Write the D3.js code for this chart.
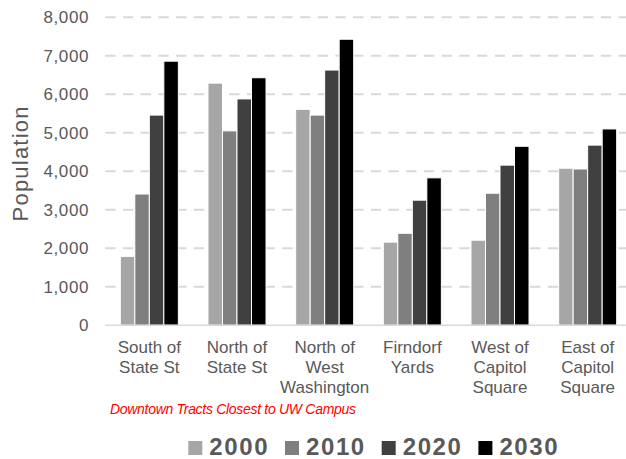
<!DOCTYPE html>
<html><head><meta charset="utf-8">
<script src="https://cdn.jsdelivr.net/npm/d3@7"></script>
<style>
html,body{margin:0;padding:0;background:#fff;}
svg{display:block;font-family:"Liberation Sans",Arial,sans-serif;}
</style></head>
<body>
<script>
const categories = [
  ["South of","State St"],
  ["North of","State St"],
  ["North of","West","Washington"],
  ["Firndorf","Yards"],
  ["West of","Capitol","Square"],
  ["East of","Capitol","Square"]
];
const series = ["2000","2010","2020","2030"];
const v2000 = [1790, 6290, 5610, 2160, 2210, 4080];
const v2010 = [3410, 5050, 5460, 2390, 3430, 4060];
const v2020 = [5460, 5880, 6630, 3250, 4160, 4680];
const v2030 = [6860, 6430, 7430, 3830, 4650, 5100];
const yTicks = [0,1000,2000,3000,4000,5000,6000,7000,8000];
const colors = ["#a6a6a6","#7f7f7f","#404040","#000000"];
const values = [v2000, v2010, v2020, v2030];

const W = 626, H = 459;
const svg = d3.select("body").append("svg").attr("width", W).attr("height", H);

const catKeys = categories.map((c,i)=>"c"+i);
const x0 = d3.scaleBand().domain(catKeys).range([105.5, 631.5]).paddingInner(0.338).paddingOuter(0.169);
const x1 = d3.scaleBand().domain(series).range([0, x0.bandwidth()]);
const y = d3.scaleLinear().domain([0, 8000]).range([325.3, 17.3]);

// gridlines
svg.append("g").selectAll("line").data(yTicks.filter(t=>t>0)).join("line")
  .attr("x1", 105.3).attr("x2", W)
  .attr("y1", d=>y(d)).attr("y2", d=>y(d))
  .attr("stroke", "#d9d9d9").attr("stroke-width", 2)
  .attr("stroke-dasharray", "10.3 7.4");

// y axis labels
const yAxis = d3.axisLeft(y).tickValues(yTicks).tickSize(0).tickPadding(0).tickFormat(d3.format(","));
const ga = svg.append("g").attr("transform", "translate(89,0)").call(yAxis);
ga.select(".domain").remove();
ga.selectAll("text").attr("fill", "#595959").style("font-size", "17px").style("letter-spacing","0.6px")
  .style("font-family", "'Liberation Sans',Arial,sans-serif");

// bars
const gBars = svg.append("g");
catKeys.forEach((k, i) => {
  const g = gBars.append("g").attr("transform", `translate(${x0(k)},0)`);
  g.selectAll("rect").data(series.map((s, j) => ({s, v: values[j][i], c: colors[j]}))).join("rect")
    .attr("x", d => x1(d.s))
    .attr("width", x1.bandwidth())
    .attr("y", d => y(d.v))
    .attr("height", d => y(0) - y(d.v))
    .attr("fill", d => d.c)
    .attr("stroke", "#ffffff").attr("stroke-width", 1);
});

// baseline
svg.append("line").attr("x1", 105.3).attr("x2", W).attr("y1", y(0)).attr("y2", y(0))
  .attr("stroke", "#d9d9d9").attr("stroke-width", 1.5);

// category labels
const gc = svg.append("g");
catKeys.forEach((k, i) => {
  const t = gc.append("text").attr("x", x0(k) + x0.bandwidth()/2).attr("y", 352.7)
    .attr("text-anchor", "middle").attr("fill", "#595959").style("font-size", "17px");
  categories[i].forEach((line, li) => {
    t.append("tspan").attr("x", x0(k) + x0.bandwidth()/2).attr("dy", li === 0 ? 0 : 20).text(line);
  });
});

// y title
svg.append("text").attr("transform", "translate(28,163.4) rotate(-90)")
  .attr("text-anchor", "middle").attr("fill", "#595959")
  .style("font-size", "22px").style("letter-spacing", "1.2px").text("Population");

// note
svg.append("text").attr("x", 110).attr("y", 414).attr("fill", "#ff0000")
  .style("font-size", "14px").style("font-style", "italic").style("letter-spacing", "-0.3px")
  .text("Downtown Tracts Closest to UW Campus");

// legend
const legX = [188.3, 285, 381.7, 478.4];
const lg = svg.append("g");
series.forEach((s, j) => {
  lg.append("rect").attr("x", legX[j]).attr("y", 441).attr("width", 14).attr("height", 14).attr("fill", colors[j]);
  lg.append("text").attr("x", legX[j] + 21).attr("y", 455).attr("fill", "#595959")
    .style("font-size", "24px").style("font-weight", "bold").style("letter-spacing", "1.6px").text(s);
});
</script>
</body></html>
